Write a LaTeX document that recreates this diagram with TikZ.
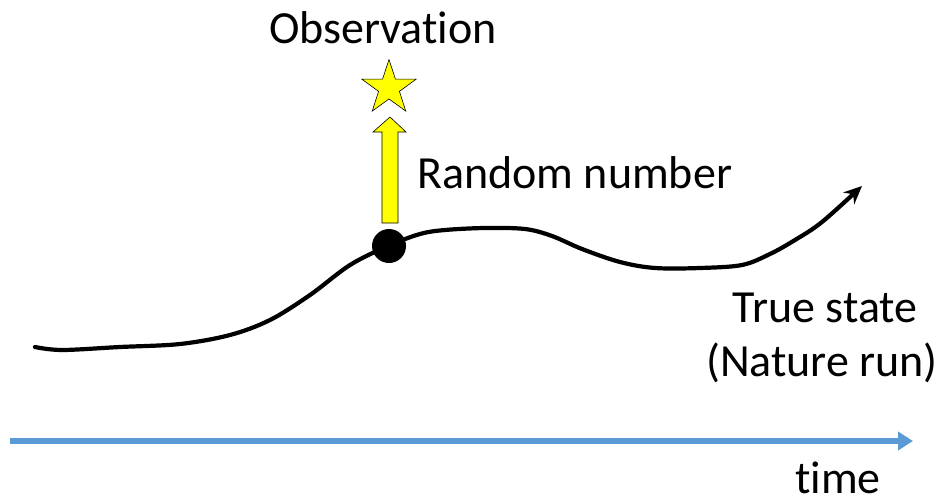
\documentclass[tikz,border=0pt]{standalone}
\usepackage{fontspec}
\setmainfont[Ligatures=NoCommon]{Carlito}
\usetikzlibrary{shapes.geometric,arrows.meta}
\definecolor{timeblue}{HTML}{5B9BD5}
\definecolor{obsyellow}{HTML}{FFFF00}
\begin{document}
\begin{tikzpicture}[x=1pt,y=-1pt,
  lbl/.style={font=\fontsize{46}{50}\selectfont, inner sep=0pt, anchor=base},
  curve/.style={line width=4.2pt, line cap=round, line join=round, -{Stealth[length=18pt,width=16pt]}}]
\useasboundingbox (0,0) rectangle (943,496);
% true state curve
\draw[curve] plot[smooth, tension=0.55] coordinates {(35,347) (62,350) (120,347) (180,344) (230,335) (270,320) (310,295) (350,265) (388,246) (420,234) (445,230) (485,228) (525,229) (552,236) (582,249) (620,262) (655,268) (700,268) (742,265) (770,254) (795,240) (822,222) (862,186)};
\coordinate (tip) at (862,186);
\node[circle, fill=black, minimum size=34pt, inner sep=0pt] (dot) at (389,246) {};
% yellow arrow
\draw[fill=obsyellow, draw=black, line width=0.6pt] (382,223) -- (382,132) -- (373,132) -- (390,117) -- (406,132) -- (398,132) -- (398,223) -- cycle;
% star
\node[star, star points=5, star point ratio=2.6, minimum size=57pt, inner sep=0pt, fill=obsyellow, draw=black, line width=0.6pt] (star) at (389,88) {};
\node[lbl] (obs) at (383,43) {Observation};
\node[lbl, anchor=base west] (rnd) at (417,188) {Random number};
\node[lbl] (true) at (825,322) {True state};
\node[lbl] (nat) at (822,376) {(Nature run)};
% time arrow
\draw[timeblue, line width=5.5pt, -{Triangle[length=15pt,width=18pt]}] (10,441) -- (913,441);
\node[lbl] (time) at (838,493) {time};
\end{tikzpicture}
\end{document}
